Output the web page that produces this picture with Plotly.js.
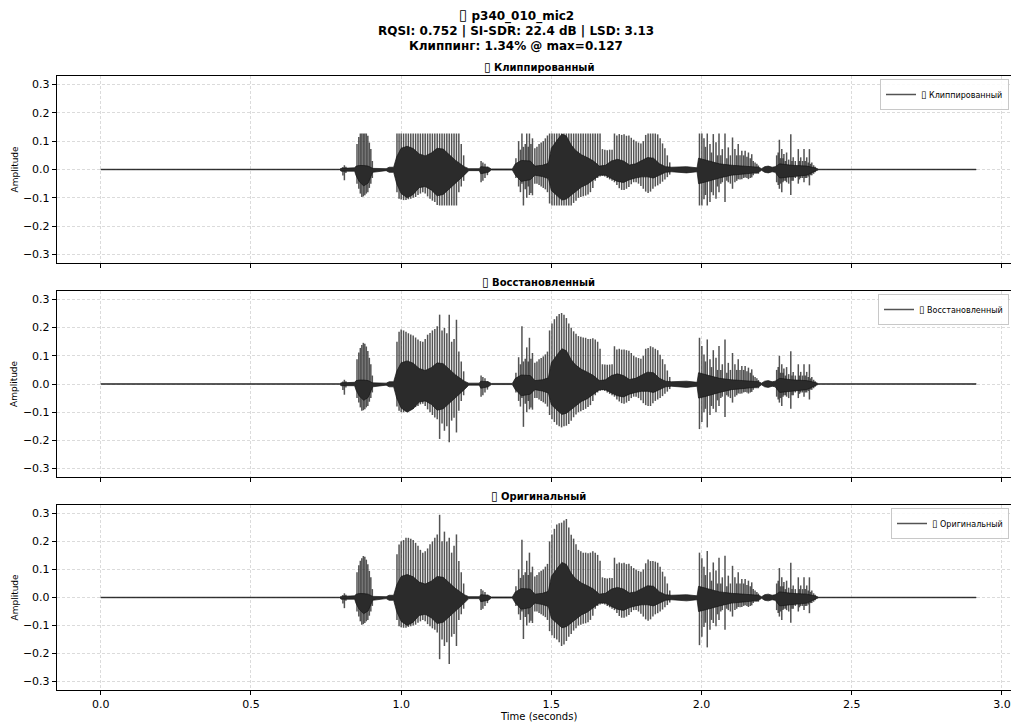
<!DOCTYPE html>
<html>
<head>
<meta charset="utf-8">
<script src="https://cdn.plot.ly/plotly-3.0.1.min.js"></script>
<style>
  html, body { margin: 0; padding: 0; overflow: hidden; background: #fff; }
  #chart { width: 1030px; height: 725px; }
</style>
</head>
<body>
<div id="chart"></div>
<script>
// ---- waveform data (seconds, amplitude) ----
// Glottal pulse peaks: time of each pulse, then per-signal upper / lower peak
const pulseT = [
  0.806, 0.811, 0.816,
  0.853, 0.859, 0.864, 0.869, 0.874, 0.879, 0.884, 0.889, 0.894, 0.899, 0.904,
  0.986, 0.993, 1.000, 1.008, 1.016, 1.024, 1.032, 1.040, 1.048, 1.056, 1.064, 1.072, 1.080, 1.088, 1.096,
  1.104, 1.112, 1.120, 1.128, 1.136, 1.144, 1.152, 1.160, 1.168, 1.176, 1.184, 1.192, 1.200, 1.208,
  1.266, 1.272, 1.279, 1.287,
  1.382, 1.391, 1.397, 1.402, 1.407, 1.413, 1.418, 1.423, 1.427, 1.432, 1.437, 1.445, 1.452, 1.459, 1.466, 1.473, 1.480, 1.487,
  1.494, 1.502, 1.510, 1.518, 1.526, 1.534, 1.542, 1.550, 1.558, 1.566, 1.574, 1.582, 1.590, 1.598, 1.606, 1.614, 1.622,
  1.630, 1.638, 1.646, 1.654, 1.662, 1.670, 1.678, 1.686, 1.694, 1.702, 1.710, 1.718, 1.726, 1.734, 1.742, 1.750, 1.758,
  1.766, 1.774, 1.782, 1.790, 1.798, 1.806, 1.814, 1.822, 1.830, 1.838, 1.846, 1.854, 1.862, 1.870, 1.878, 1.886, 1.894,
  1.993, 2.001, 2.008, 2.013, 2.019, 2.028, 2.033, 2.039, 2.048, 2.053, 2.058, 2.064, 2.069, 2.078, 2.084, 2.089, 2.096,
  2.103, 2.111, 2.117, 2.122, 2.128, 2.134, 2.140, 2.145, 2.151, 2.156, 2.162, 2.167, 2.172, 2.178, 2.184, 2.189,
  2.250, 2.255, 2.259, 2.263, 2.267, 2.271, 2.274, 2.279, 2.283, 2.290, 2.297, 2.301, 2.305, 2.312, 2.322, 2.326, 2.330,
  2.336, 2.341, 2.345, 2.350, 2.355, 2.359, 2.363, 2.367, 2.373, 2.378
];

const origHi = [
  0.009, 0.015, 0.010,
  0.090, 0.115, 0.131, 0.140, 0.148, 0.145, 0.135, 0.119, 0.095, 0.072, 0.030,
  0.154, 0.189, 0.201, 0.205, 0.213, 0.213, 0.210, 0.205, 0.195, 0.185, 0.170, 0.160, 0.165, 0.175, 0.190,
  0.200, 0.213, 0.225, 0.295, 0.201, 0.235, 0.200, 0.213, 0.160, 0.185, 0.225, 0.130, 0.090, 0.050,
  0.030, 0.025, 0.020, 0.010,
  0.040, 0.100, 0.070, 0.206, 0.080, 0.090, 0.131, 0.080, 0.160, 0.090, 0.110, 0.075, 0.080, 0.090, 0.095, 0.100, 0.110, 0.120,
  0.200, 0.225, 0.245, 0.260, 0.265, 0.267, 0.275, 0.280, 0.250, 0.224, 0.210, 0.190, 0.170, 0.165, 0.160, 0.160, 0.158,
  0.160, 0.165, 0.160, 0.152, 0.131, 0.072, 0.070, 0.068, 0.070, 0.070, 0.142, 0.120, 0.125, 0.122, 0.124, 0.119, 0.120,
  0.112, 0.105, 0.100, 0.095, 0.092, 0.100, 0.122, 0.136, 0.130, 0.130, 0.128, 0.124, 0.110, 0.092, 0.075, 0.050, 0.025,
  0.160, 0.140, 0.110, 0.080, 0.166, 0.090, 0.060, 0.125, 0.096, 0.050, 0.142, 0.050, 0.072, 0.149, 0.040, 0.078, 0.050,
  0.113, 0.072, 0.050, 0.090, 0.050, 0.066, 0.050, 0.066, 0.045, 0.060, 0.040, 0.054, 0.030, 0.025, 0.020, 0.014,
  0.050, 0.060, 0.105, 0.040, 0.072, 0.040, 0.055, 0.030, 0.060, 0.035, 0.124, 0.030, 0.043, 0.030, 0.072, 0.030, 0.043,
  0.030, 0.072, 0.030, 0.043, 0.025, 0.072, 0.020, 0.025, 0.015, 0.010
];
const origLo = [
  -0.021, -0.038, -0.012,
  -0.050, -0.068, -0.085, -0.097, -0.095, -0.091, -0.085, -0.080, -0.065, -0.050, -0.030,
  -0.080, -0.103, -0.106, -0.108, -0.108, -0.105, -0.103, -0.100, -0.097, -0.090, -0.085, -0.080, -0.085, -0.095, -0.103,
  -0.110, -0.115, -0.125, -0.220, -0.150, -0.173, -0.160, -0.237, -0.140, -0.130, -0.173, -0.080, -0.060, -0.040,
  -0.045, -0.040, -0.030, -0.020,
  -0.030, -0.060, -0.080, -0.050, -0.148, -0.070, -0.100, -0.060, -0.090, -0.083, -0.091, -0.050, -0.050, -0.055, -0.060, -0.065, -0.070, -0.080,
  -0.120, -0.135, -0.145, -0.150, -0.160, -0.173, -0.168, -0.155, -0.140, -0.130, -0.118, -0.110, -0.100, -0.097, -0.094, -0.092, -0.088,
  -0.080, -0.065, -0.040, -0.030, -0.025, -0.022, -0.025, -0.030, -0.035, -0.040, -0.045, -0.055, -0.066, -0.072, -0.072, -0.068,
  -0.062, -0.052, -0.045, -0.045, -0.050, -0.058, -0.068, -0.078, -0.083, -0.078, -0.068, -0.060, -0.056, -0.050, -0.043, -0.035, -0.027, -0.018,
  -0.170, -0.140, -0.105, -0.090, -0.178, -0.115, -0.080, -0.091, -0.103, -0.060, -0.080, -0.050, -0.045, -0.115, -0.040, -0.045, -0.050,
  -0.068, -0.045, -0.040, -0.034, -0.035, -0.034, -0.030, -0.028, -0.030, -0.034, -0.030, -0.028, -0.020, -0.015, -0.015, -0.015,
  -0.045, -0.055, -0.068, -0.050, -0.080, -0.045, -0.040, -0.040, -0.045, -0.050, -0.090, -0.040, -0.040, -0.030, -0.050, -0.035, -0.030,
  -0.030, -0.045, -0.030, -0.030, -0.025, -0.056, -0.020, -0.020, -0.015, -0.010
];

const restHi = [
  0.009, 0.015, 0.010,
  0.088, 0.112, 0.128, 0.138, 0.146, 0.143, 0.133, 0.117, 0.093, 0.070, 0.030,
  0.150, 0.185, 0.193, 0.190, 0.185, 0.180, 0.176, 0.172, 0.165, 0.158, 0.152, 0.150, 0.160, 0.175, 0.181,
  0.190, 0.195, 0.205, 0.246, 0.190, 0.199, 0.180, 0.246, 0.150, 0.160, 0.228, 0.115, 0.080, 0.045,
  0.030, 0.025, 0.020, 0.010,
  0.040, 0.095, 0.070, 0.205, 0.080, 0.090, 0.130, 0.080, 0.164, 0.090, 0.110, 0.075, 0.080, 0.088, 0.092, 0.098, 0.105, 0.115,
  0.190, 0.215, 0.230, 0.240, 0.248, 0.252, 0.246, 0.234, 0.215, 0.200, 0.187, 0.178, 0.170, 0.168, 0.165, 0.164, 0.160,
  0.160, 0.162, 0.158, 0.150, 0.125, 0.070, 0.069, 0.068, 0.069, 0.070, 0.134, 0.122, 0.125, 0.122, 0.122, 0.120, 0.118,
  0.110, 0.100, 0.095, 0.092, 0.090, 0.100, 0.125, 0.128, 0.134, 0.130, 0.125, 0.120, 0.104, 0.088, 0.070, 0.048, 0.025,
  0.164, 0.135, 0.105, 0.080, 0.158, 0.088, 0.060, 0.120, 0.093, 0.050, 0.135, 0.050, 0.070, 0.158, 0.040, 0.075, 0.050,
  0.110, 0.070, 0.050, 0.088, 0.050, 0.064, 0.050, 0.064, 0.045, 0.058, 0.040, 0.052, 0.030, 0.025, 0.020, 0.014,
  0.050, 0.060, 0.100, 0.040, 0.070, 0.040, 0.055, 0.030, 0.060, 0.035, 0.116, 0.030, 0.043, 0.030, 0.070, 0.030, 0.043,
  0.030, 0.070, 0.030, 0.043, 0.025, 0.070, 0.020, 0.025, 0.015, 0.010
];
const restLo = [
  -0.021, -0.038, -0.012,
  -0.050, -0.066, -0.083, -0.095, -0.093, -0.090, -0.083, -0.078, -0.063, -0.050, -0.030,
  -0.080, -0.095, -0.100, -0.100, -0.098, -0.095, -0.092, -0.088, -0.082, -0.078, -0.072, -0.070, -0.078, -0.090, -0.100,
  -0.110, -0.119, -0.125, -0.195, -0.140, -0.166, -0.150, -0.207, -0.130, -0.120, -0.172, -0.095, -0.060, -0.040,
  -0.045, -0.040, -0.030, -0.020,
  -0.030, -0.060, -0.080, -0.050, -0.152, -0.070, -0.100, -0.060, -0.090, -0.083, -0.091, -0.050, -0.050, -0.055, -0.060, -0.065, -0.070, -0.080,
  -0.110, -0.125, -0.135, -0.145, -0.150, -0.154, -0.150, -0.148, -0.142, -0.130, -0.118, -0.108, -0.100, -0.097, -0.092, -0.088, -0.082,
  -0.075, -0.060, -0.040, -0.030, -0.025, -0.022, -0.025, -0.030, -0.035, -0.040, -0.045, -0.055, -0.062, -0.068, -0.070, -0.066,
  -0.060, -0.050, -0.045, -0.045, -0.050, -0.058, -0.068, -0.075, -0.078, -0.078, -0.068, -0.060, -0.055, -0.050, -0.043, -0.035, -0.027, -0.018,
  -0.160, -0.135, -0.100, -0.088, -0.154, -0.110, -0.078, -0.088, -0.100, -0.058, -0.078, -0.050, -0.045, -0.117, -0.040, -0.045, -0.050,
  -0.066, -0.045, -0.040, -0.034, -0.035, -0.034, -0.030, -0.028, -0.030, -0.034, -0.030, -0.028, -0.020, -0.015, -0.015, -0.015,
  -0.045, -0.055, -0.066, -0.050, -0.078, -0.045, -0.040, -0.040, -0.045, -0.050, -0.088, -0.040, -0.040, -0.030, -0.050, -0.035, -0.030,
  -0.030, -0.045, -0.030, -0.030, -0.025, -0.055, -0.020, -0.020, -0.015, -0.010
];

const clipHi = [
  0.009, 0.015, 0.010,
  0.090, 0.115, 0.127, 0.127, 0.127, 0.127, 0.127, 0.119, 0.095, 0.072, 0.030,
  0.127, 0.127, 0.127, 0.127, 0.127, 0.127, 0.127, 0.127, 0.127, 0.127, 0.127, 0.127, 0.127, 0.127, 0.127,
  0.127, 0.127, 0.127, 0.127, 0.127, 0.127, 0.127, 0.127, 0.127, 0.127, 0.127, 0.127, 0.090, 0.050,
  0.030, 0.025, 0.020, 0.010,
  0.040, 0.100, 0.070, 0.127, 0.080, 0.090, 0.127, 0.080, 0.127, 0.090, 0.110, 0.075, 0.080, 0.090, 0.095, 0.100, 0.110, 0.120,
  0.127, 0.127, 0.127, 0.127, 0.127, 0.127, 0.127, 0.127, 0.127, 0.127, 0.127, 0.127, 0.127, 0.127, 0.127, 0.127, 0.127,
  0.127, 0.127, 0.127, 0.127, 0.127, 0.072, 0.070, 0.068, 0.070, 0.070, 0.127, 0.120, 0.125, 0.122, 0.124, 0.119, 0.120,
  0.112, 0.105, 0.100, 0.095, 0.092, 0.100, 0.122, 0.127, 0.127, 0.127, 0.127, 0.124, 0.110, 0.092, 0.075, 0.050, 0.025,
  0.127, 0.127, 0.110, 0.080, 0.127, 0.090, 0.060, 0.125, 0.096, 0.050, 0.127, 0.050, 0.072, 0.127, 0.040, 0.078, 0.050,
  0.113, 0.072, 0.050, 0.090, 0.050, 0.066, 0.050, 0.066, 0.045, 0.060, 0.040, 0.054, 0.030, 0.025, 0.020, 0.014,
  0.050, 0.060, 0.105, 0.040, 0.072, 0.040, 0.055, 0.030, 0.060, 0.035, 0.124, 0.030, 0.043, 0.030, 0.072, 0.030, 0.043,
  0.030, 0.072, 0.030, 0.043, 0.025, 0.072, 0.020, 0.025, 0.015, 0.010
];
const clipLo = [
  -0.021, -0.038, -0.012,
  -0.050, -0.068, -0.085, -0.097, -0.095, -0.091, -0.085, -0.080, -0.065, -0.050, -0.030,
  -0.080, -0.103, -0.106, -0.108, -0.108, -0.105, -0.103, -0.100, -0.097, -0.090, -0.085, -0.080, -0.085, -0.095, -0.103,
  -0.110, -0.115, -0.125, -0.127, -0.127, -0.127, -0.127, -0.127, -0.127, -0.127, -0.127, -0.080, -0.060, -0.040,
  -0.045, -0.040, -0.030, -0.020,
  -0.030, -0.060, -0.080, -0.050, -0.127, -0.070, -0.100, -0.060, -0.090, -0.083, -0.091, -0.050, -0.050, -0.055, -0.060, -0.065, -0.070, -0.080,
  -0.120, -0.127, -0.127, -0.127, -0.127, -0.127, -0.127, -0.127, -0.127, -0.127, -0.118, -0.110, -0.100, -0.097, -0.094, -0.092, -0.088,
  -0.080, -0.065, -0.040, -0.030, -0.025, -0.022, -0.025, -0.030, -0.035, -0.040, -0.045, -0.055, -0.066, -0.072, -0.072, -0.068,
  -0.062, -0.052, -0.045, -0.045, -0.050, -0.058, -0.068, -0.078, -0.083, -0.078, -0.068, -0.060, -0.056, -0.050, -0.043, -0.035, -0.027, -0.018,
  -0.127, -0.127, -0.105, -0.090, -0.127, -0.115, -0.080, -0.091, -0.103, -0.060, -0.080, -0.050, -0.045, -0.115, -0.040, -0.045, -0.050,
  -0.068, -0.045, -0.040, -0.034, -0.035, -0.034, -0.030, -0.028, -0.030, -0.034, -0.030, -0.028, -0.020, -0.015, -0.015, -0.015,
  -0.045, -0.055, -0.068, -0.050, -0.080, -0.045, -0.040, -0.040, -0.045, -0.050, -0.090, -0.040, -0.040, -0.030, -0.050, -0.035, -0.030,
  -0.030, -0.045, -0.030, -0.030, -0.025, -0.056, -0.020, -0.020, -0.015, -0.010
];

// Dense inner body of the waveform (upper / lower edge)
const coreT = [
  0.000, 0.795, 0.800, 0.820, 0.845, 0.850, 0.860, 0.875, 0.890, 0.905, 0.950, 0.960, 0.975,
  0.985, 1.000, 1.020, 1.040, 1.060, 1.080, 1.100, 1.120, 1.140, 1.160, 1.180, 1.210, 1.225,
  1.260, 1.265, 1.290, 1.300, 1.370, 1.380, 1.400, 1.430, 1.445, 1.470, 1.490,
  1.500, 1.520, 1.535, 1.550, 1.565, 1.580, 1.600, 1.620, 1.640, 1.660, 1.680, 1.700, 1.720,
  1.740, 1.760, 1.780, 1.800, 1.820, 1.840, 1.860, 1.880, 1.900, 1.950, 1.985,
  1.990, 2.010, 2.030, 2.060, 2.100, 2.150, 2.190, 2.200, 2.210, 2.222, 2.235,
  2.245, 2.260, 2.300, 2.350, 2.380, 2.390, 2.914
];
const coreHi = [
  0.001, 0.001, 0.004, 0.004, 0.006, 0.012, 0.014, 0.014, 0.012, 0.004, 0.003, 0.008, 0.008,
  0.045, 0.075, 0.082, 0.074, 0.055, 0.048, 0.058, 0.075, 0.072, 0.052, 0.033, 0.010, 0.003,
  0.003, 0.010, 0.008, 0.002, 0.002, 0.020, 0.032, 0.030, 0.012, 0.015, 0.022,
  0.075, 0.105, 0.125, 0.118, 0.088, 0.068, 0.052, 0.042, 0.030, 0.012, 0.015, 0.030, 0.036,
  0.030, 0.016, 0.020, 0.032, 0.042, 0.040, 0.020, 0.010, 0.008, 0.010, 0.006,
  0.040, 0.035, 0.030, 0.020, 0.015, 0.012, 0.008, 0.003, 0.010, 0.012, 0.008,
  0.010, 0.020, 0.015, 0.012, 0.005, 0.001, 0.001
];
const coreLo = [
  -0.001, -0.001, -0.006, -0.005, -0.006, -0.022, -0.042, -0.058, -0.048, -0.010, -0.004, -0.010, -0.010,
  -0.050, -0.085, -0.100, -0.088, -0.064, -0.060, -0.072, -0.093, -0.088, -0.068, -0.048, -0.020, -0.004,
  -0.004, -0.015, -0.010, -0.002, -0.002, -0.020, -0.042, -0.036, -0.020, -0.025, -0.032,
  -0.074, -0.094, -0.108, -0.104, -0.092, -0.078, -0.062, -0.052, -0.036, -0.020, -0.020, -0.032, -0.042,
  -0.046, -0.036, -0.030, -0.026, -0.026, -0.030, -0.020, -0.010, -0.008, -0.012, -0.008,
  -0.050, -0.045, -0.040, -0.030, -0.020, -0.015, -0.010, -0.003, -0.010, -0.012, -0.008,
  -0.010, -0.030, -0.025, -0.020, -0.005, -0.001, -0.001
];

const xTickVals = [0, 0.5, 1, 1.5, 2, 2.5, 3];
const xTickText = ['0.0', '0.5', '1.0', '1.5', '2.0', '2.5', '3.0'];
const yTickVals = [-0.3, -0.2, -0.1, 0, 0.1, 0.2, 0.3];
const yTickText = ['\u22120.3', '\u22120.2', '\u22120.1', '0.0', '0.1', '0.2', '0.3'];

const panelNames = ['Клиппированный', 'Восстановленный', 'Оригинальный'];
const titleLines = ['p340_010_mic2', 'RQSI: 0.752 | SI-SDR: 22.4 dB | LSD: 3.13', 'Клиппинг: 1.34% @ max=0.127'];

// ---- figure geometry (pixels) ----
const W = 1030, H = 725;
const FONT = 'DejaVu Sans, Verdana, sans-serif';
const fx = p => p / W;
const fy = p => 1 - p / H;
const plotL = 57, plotR = 1020;
const panels = [
  { top: 76, bottom: 263, hi: clipHi, lo: clipLo, legendTop: 79 },
  { top: 291, bottom: 477, hi: restHi, lo: restLo, legendTop: 294 },
  { top: 505, bottom: 690, hi: origHi, lo: origLo, legendTop: 508 }
];

// placeholder box glyph that precedes each label, a little taller than the text
const box = size => '<span style="font-size:' + size + 'px">\u25AF</span> ';

function pulseSegments(hi, lo) {
  const x = [], y = [];
  pulseT.forEach((t, i) => { x.push(t, t, null); y.push(lo[i], hi[i], null); });
  return { x, y };
}
const coreX = coreT.concat(coreT.slice().reverse());
const coreY = coreHi.concat(coreLo.slice().reverse());

const traces = [];
const layout = {
  width: W, height: H,
  margin: { l: 0, r: 0, t: 0, b: 0 },
  paper_bgcolor: '#ffffff', plot_bgcolor: '#ffffff',
  font: { family: FONT, color: '#000', size: 11 },
  showlegend: true,
  annotations: []
};

panels.forEach((p, k) => {
  const n = k + 1;
  const xa = n === 1 ? 'x' : 'x' + n;
  const ya = n === 1 ? 'y' : 'y' + n;
  const legendId = n === 1 ? 'legend' : 'legend' + n;
  const seg = pulseSegments(p.hi, p.lo);

  traces.push({
    type: 'scatter', mode: 'lines', x: seg.x, y: seg.y, xaxis: xa, yaxis: ya,
    line: { color: 'rgba(35,35,35,0.78)', width: 1.5 },
    name: box(10) + panelNames[k], legend: legendId, showlegend: true, hoverinfo: 'skip', connectgaps: false
  });
  traces.push({
    type: 'scatter', mode: 'lines', x: coreX, y: coreY, xaxis: xa, yaxis: ya,
    fill: 'toself', fillcolor: '#2b2b2b',
    line: { color: '#151515', width: 0.7 },
    showlegend: false, hoverinfo: 'skip'
  });

  layout[n === 1 ? 'xaxis' : 'xaxis' + n] = {
    domain: [fx(plotL), fx(plotR)], anchor: ya,
    range: [-0.1457, 3.06], matches: n === 1 ? undefined : 'x',
    tickmode: 'array', tickvals: xTickVals, ticktext: xTickText,
    showticklabels: n === 3, ticks: 'outside', ticklen: 4, tickwidth: 1, tickcolor: '#000',
    showline: true, mirror: true, linecolor: '#000', linewidth: 1.2,
    showgrid: true, gridcolor: '#d2d2d2', gridwidth: 0.8, griddash: '3px,2px',
    zeroline: false, tickfont: { family: FONT, size: 11, color: '#000' }
  };
  layout[n === 1 ? 'yaxis' : 'yaxis' + n] = {
    domain: [fy(p.bottom), fy(p.top)], anchor: xa,
    range: [-0.33, 0.33],
    tickmode: 'array', tickvals: yTickVals, ticktext: yTickText,
    ticks: 'outside', ticklen: 4, tickwidth: 1, tickcolor: '#000',
    showline: true, mirror: true, linecolor: '#000', linewidth: 1.2,
    showgrid: true, gridcolor: '#d2d2d2', gridwidth: 0.8, griddash: '3px,2px',
    zeroline: false, tickfont: { family: FONT, size: 11, color: '#000' }
  };
  layout[legendId] = {
    x: fx(1009), y: fy(p.legendTop), xanchor: 'right', yanchor: 'top',
    xref: 'paper', yref: 'paper',
    bgcolor: 'rgba(255,255,255,0.85)', bordercolor: '#c8c8c8', borderwidth: 1,
    font: { family: FONT, size: 8, color: '#000' }, itemwidth: 30
  };

  // panel title
  layout.annotations.push({
    xref: 'paper', yref: 'paper', x: fx((plotL + plotR) / 2), y: fy(p.top - 9),
    xanchor: 'center', yanchor: 'middle', showarrow: false,
    text: '<b>' + box(12) + panelNames[k] + '</b>', font: { family: FONT, size: 10, color: '#000' }
  });
  // y axis label
  layout.annotations.push({
    xref: 'paper', yref: 'paper', x: fx(14), y: fy((p.top + p.bottom) / 2),
    xanchor: 'center', yanchor: 'middle', showarrow: false, textangle: -90,
    text: 'Amplitude', font: { family: FONT, size: 9, color: '#000' }
  });
});

// figure title, three lines
[15, 31, 46].forEach((yPix, i) => {
  layout.annotations.push({
    xref: 'paper', yref: 'paper', x: fx(516), y: fy(yPix),
    xanchor: 'center', yanchor: 'middle', showarrow: false,
    text: '<b>' + (i === 0 ? box(15) : '') + titleLines[i] + '</b>', font: { family: FONT, size: 12, color: '#000' }
  });
});
// x axis label
layout.annotations.push({
  xref: 'paper', yref: 'paper', x: fx(538), y: fy(716),
  xanchor: 'center', yanchor: 'middle', showarrow: false,
  text: 'Time (seconds)', font: { family: FONT, size: 10, color: '#000' }
});

Plotly.newPlot('chart', traces, layout, { staticPlot: true, displayModeBar: false });
</script>
</body>
</html>
